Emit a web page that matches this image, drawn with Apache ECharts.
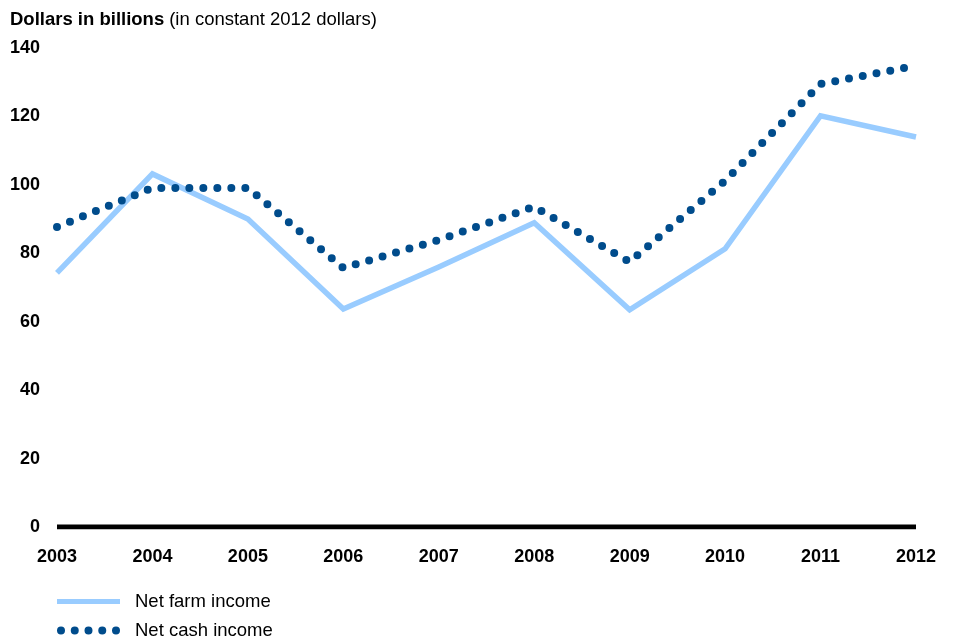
<!DOCTYPE html>
<html><head><meta charset="utf-8">
<script src="https://cdn.jsdelivr.net/npm/echarts@6/dist/echarts.min.js"></script>
<style>html,body{margin:0;padding:0;background:#fff}#c{width:956px;height:641px}</style>
</head><body><div id="c"></div>
<script>
const years = ['2003','2004','2005','2006','2007','2008','2009','2010','2011','2012'];
const netFarmIncome = [74.3, 103.2, 90.0, 63.7, 76.0, 88.9, 63.5, 81.3, 120.2, 114.0];
const netCashIncome = [87.7, 99.1, 99.1, 75.7, 83.9, 93.6, 77.5, 101.2, 129.5, 134.8];
const yTicks = [0, 20, 40, 60, 80, 100, 120, 140];

const font = 'Liberation Sans, Arial, Helvetica, sans-serif';
const dotsIcon = 'path://M0,4a4,4 0 1,0 8,0a4,4 0 1,0 -8,0z' +
  'M13.75,4a4,4 0 1,0 8,0a4,4 0 1,0 -8,0z' +
  'M27.5,4a4,4 0 1,0 8,0a4,4 0 1,0 -8,0z' +
  'M41.25,4a4,4 0 1,0 8,0a4,4 0 1,0 -8,0z' +
  'M55,4a4,4 0 1,0 8,0a4,4 0 1,0 -8,0z';
const legendText = {color: '#000', fontSize: 18.5, fontFamily: font, padding: [0,0,0,10]};
const chart = echarts.init(document.getElementById('c'));
chart.setOption({
  animation: false,
  textStyle: {fontFamily: font},
  title: {
    left: 5, top: 5,
    text: '{b|Dollars in billions} {n|(in constant 2012 dollars)}',
    textStyle: {fontWeight: 'normal', rich: {
      b: {fontFamily: font, fontWeight: 'bold', fontSize: 18.5, color: '#000'},
      n: {fontFamily: font, fontWeight: 'normal', fontSize: 18.5, color: '#000'}
    }}
  },
  grid: {left: 57, right: 40, top: 48, bottom: 114, containLabel: false},
  xAxis: {
    type: 'category', data: years, boundaryGap: false,
    axisLine: {show: false},
    axisTick: {show: false},
    axisLabel: {color: '#000', fontWeight: 'bold', fontSize: 18, margin: 21, fontFamily: font}
  },
  yAxis: {
    type: 'value', min: yTicks[0], max: yTicks[yTicks.length-1], interval: 20,
    axisLine: {show: false}, axisTick: {show: false},
    splitLine: {show: false},
    axisLabel: {color: '#000', fontWeight: 'bold', fontSize: 18, margin: 17, fontFamily: font}
  },
  legend: [
    {
      left: 52, top: 587, itemWidth: 63, itemHeight: 5,
      icon: 'rect', lineStyle: {opacity: 0, width: 0},
      textStyle: legendText, data: ['Net farm income']
    },
    {
      left: 52, top: 616, itemWidth: 63, itemHeight: 8,
      icon: dotsIcon, lineStyle: {opacity: 0, width: 0},
      textStyle: legendText, data: ['Net cash income']
    }
  ],
  series: [
    {
      name: 'zero', type: 'line', data: years.map(() => 0), symbol: 'none',
      lineStyle: {color: '#000', width: 5}, silent: true, z: 1
    },
    {
      name: 'Net farm income', type: 'line', data: netFarmIncome, symbol: 'none',
      lineStyle: {color: '#99CCFF', width: 5.5, join: 'miter'}, itemStyle: {color: '#99CCFF'}, z: 2
    },
    {
      name: 'Net cash income', type: 'line', data: netCashIncome, symbol: 'none',
      lineStyle: {color: '#004C8C', width: 8, type: [0, 14], cap: 'round'}, itemStyle: {color: '#004C8C'}, z: 3
    }
  ]
});
</script></body></html>
